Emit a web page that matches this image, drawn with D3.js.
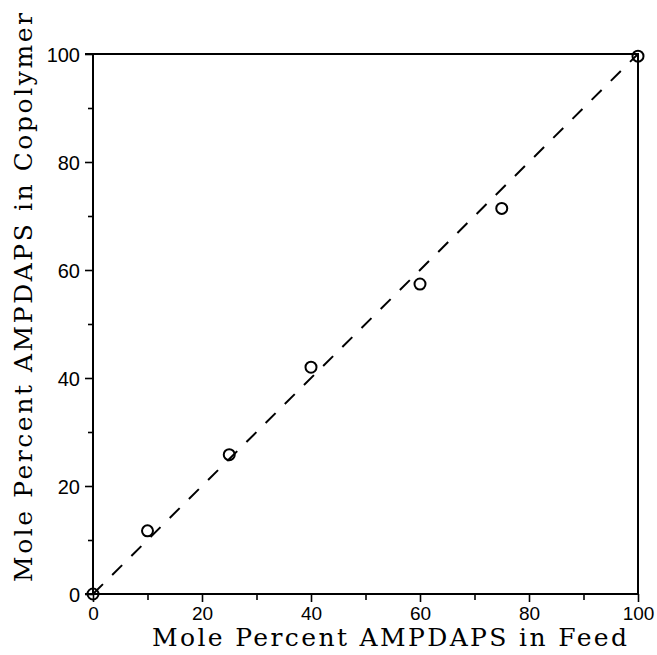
<!DOCTYPE html>
<html>
<head>
<meta charset="utf-8">
<script src="https://cdn.jsdelivr.net/npm/d3@7"></script>
<style>
  html, body { margin: 0; padding: 0; background: #fff; }
  svg { display: block; }
</style>
</head>
<body>
<svg id="chart" width="657" height="655"></svg>
<script>
// Copolymer composition vs. feed composition
const feedPercent = [0, 10, 25, 40, 60, 75, 100];
const copolymerPercent = [0, 11.7, 25.8, 42.0, 57.4, 71.4, 99.6];
const idealLine = [[0, 0], [100, 100]];
const majorTicks = [0, 20, 40, 60, 80, 100];
const minorTicks = [10, 30, 50, 70, 90];
const xTitle = "Mole Percent AMPDAPS in Feed";
const yTitle = "Mole Percent AMPDAPS in Copolymer";

(function drawChart() {
  const svg = d3.select("#chart");
  const plotLeft = 93, plotRight = 638, plotTop = 54, plotBottom = 594;

  const x = d3.scaleLinear().domain([0, 100]).range([plotLeft, plotRight]);
  const y = d3.scaleLinear().domain([0, 100]).range([plotBottom, plotTop]);

  const ink = "#000";
  const tickFont = "'Liberation Sans', Arial, sans-serif";
  const titleFont = "'DejaVu Serif', 'Liberation Serif', serif";

  // frame: top and right borders
  svg.append("path")
    .attr("d", `M${plotLeft - 8},${plotTop}H${plotRight}V${plotBottom}`)
    .attr("fill", "none").attr("stroke", ink).attr("stroke-width", 2);

  // x axis (ticks pointing outward)
  const xAxis = svg.append("g").attr("transform", `translate(0,${plotBottom})`)
    .call(d3.axisBottom(x).tickValues(majorTicks).tickSize(8).tickSizeOuter(0).tickPadding(5));
  const xMinor = svg.append("g").attr("transform", `translate(0,${plotBottom})`)
    .call(d3.axisBottom(x).tickValues(minorTicks).tickSize(6).tickSizeOuter(0).tickFormat(""));

  // y axis
  const yAxis = svg.append("g").attr("transform", `translate(${plotLeft},0)`)
    .call(d3.axisLeft(y).tickValues(majorTicks).tickSize(8).tickSizeOuter(0).tickPadding(5));
  const yMinor = svg.append("g").attr("transform", `translate(${plotLeft},0)`)
    .call(d3.axisLeft(y).tickValues(minorTicks).tickSize(5).tickSizeOuter(0).tickFormat(""));

  [xAxis, xMinor].forEach(g => g.select(".domain").attr("d", `M${plotLeft - 8},0H${plotRight}`));
  [yAxis, yMinor].forEach(g => g.select(".domain").attr("d", `M0,${plotBottom}V${plotTop}`));

  [xAxis, xMinor, yAxis, yMinor].forEach(g => {
    g.select(".domain").attr("stroke", ink).attr("stroke-width", 2);
    g.selectAll(".tick line").attr("stroke", ink).attr("stroke-width", 1.6);
    g.selectAll(".tick text")
      .attr("fill", ink)
      .style("font-family", tickFont);
  });
  xAxis.selectAll(".tick text").style("font-size", "19px");
  yAxis.selectAll(".tick text").style("font-size", "20px").attr("dy", "0.36em");

  // dashed 1:1 reference line
  svg.append("path")
    .datum(idealLine)
    .attr("d", d3.line().x(d => x(d[0])).y(d => y(d[1])))
    .attr("fill", "none")
    .attr("stroke", ink)
    .attr("stroke-width", 2)
    .attr("stroke-dasharray", "14,13");

  // measured compositions
  svg.append("g").selectAll("circle")
    .data(feedPercent.map((f, i) => [f, copolymerPercent[i]]))
    .join("circle")
    .attr("cx", d => x(d[0]))
    .attr("cy", d => y(d[1]))
    .attr("r", 5.5)
    .attr("fill", "none")
    .attr("stroke", ink)
    .attr("stroke-width", 2);

  // axis titles
  svg.append("text")
    .attr("x", 152).attr("y", 646)
    .attr("textLength", 475).attr("lengthAdjust", "spacing")
    .style("font-family", titleFont).style("font-size", "25px")
    .attr("fill", ink)
    .text(xTitle);

  svg.append("text")
    .attr("transform", "translate(32,582) rotate(-90)")
    .attr("textLength", 569).attr("lengthAdjust", "spacing")
    .style("font-family", titleFont).style("font-size", "25px")
    .attr("fill", ink)
    .text(yTitle);
})();
</script>
</body>
</html>
